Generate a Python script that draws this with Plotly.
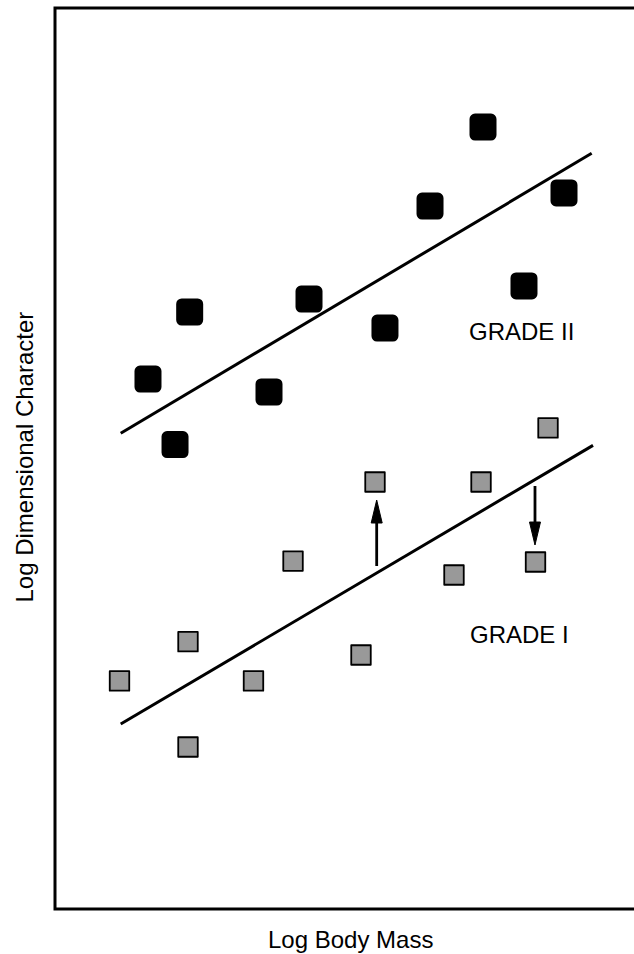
import plotly.graph_objects as go

# Grade II (black) and Grade I (grey) observations: log body mass vs log dimensional character
grade2_mass = [16.06, 20.73, 23.26, 36.96, 43.87, 56.99, 64.77, 73.92, 81.00, 87.91]
grade2_char = [58.82, 51.55, 66.26, 57.38, 67.70, 64.48, 78.02, 86.79, 69.15, 79.47]
grade1_mass = [11.14, 22.97, 22.97, 34.28, 41.11, 52.85, 55.27, 68.91, 73.58, 82.99, 85.15]
grade1_char = [25.31, 29.67, 17.98, 25.31, 38.62, 28.19, 47.39, 37.07, 47.39, 38.51, 53.39]

# Fitted allometric lines for each grade (end points)
grade2_fit_mass = [11.35, 92.69]
grade2_fit_char = [52.80, 83.87]
grade1_fit_mass = [11.35, 92.92]
grade1_fit_char = [20.53, 51.46]

# Shifts between grades: body mass, start and end of the arrow
shift_mass = [55.56, 82.90]
shift_from = [38.07, 46.95]
shift_to = [45.39, 40.40]

# Grade labels
grade_labels = ["GRADE II", "GRADE I"]
grade_label_mass = [71.2, 71.3]
grade_label_char = [64.15, 30.52]

FONT = "Liberation Sans, Arial, Helvetica, sans-serif"
FONT_SIZE = 24
HEAD_HALF_W = 0.95   # arrow head half width (axis units)
HEAD_LEN = 2.55      # arrow head length (axis units)

fig = go.Figure()

# regression lines
for fx, fy in [(grade2_fit_mass, grade2_fit_char), (grade1_fit_mass, grade1_fit_char)]:
    fig.add_trace(go.Scatter(x=fx, y=fy, mode="lines",
                             line=dict(color="black", width=3),
                             hoverinfo="skip", showlegend=False))

# shift arrows: shaft plus filled head
for m, a, b in zip(shift_mass, shift_from, shift_to):
    d = 1 if b > a else -1
    base = b - d * HEAD_LEN
    fig.add_trace(go.Scatter(x=[m, m], y=[a, base + d * 0.3], mode="lines",
                             line=dict(color="black", width=2.8),
                             hoverinfo="skip", showlegend=False))
    fig.add_trace(go.Scatter(x=[m, m - HEAD_HALF_W, m + HEAD_HALF_W, m],
                             y=[b, base, base, b], mode="lines",
                             fill="toself", fillcolor="black",
                             line=dict(color="black", width=1),
                             hoverinfo="skip", showlegend=False))

# Grade I points
fig.add_trace(go.Scatter(x=grade1_mass, y=grade1_char, mode="markers",
                         marker=dict(symbol="square", size=19.5, color="#999999",
                                     line=dict(color="black", width=1.8)),
                         showlegend=False))

# Grade II points
fig.add_trace(go.Scatter(x=grade2_mass, y=grade2_char, mode="markers",
                         marker=dict(symbol="square", size=16, color="black",
                                     line=dict(color="black", width=11)),
                         showlegend=False))

for txt, gx, gy in zip(grade_labels, grade_label_mass, grade_label_char):
    fig.add_annotation(x=gx, y=gy, text=txt, showarrow=False,
                       xanchor="left", yanchor="middle",
                       font=dict(family=FONT, size=FONT_SIZE, color="black"))

# axis titles
fig.add_annotation(xref="paper", yref="paper", x=0.5095, y=-0.0333,
                   text="Log Body Mass", showarrow=False,
                   xanchor="center", yanchor="middle",
                   font=dict(family=FONT, size=FONT_SIZE, color="black"))
fig.add_annotation(xref="paper", yref="paper", x=-0.0518, y=0.5011,
                   text="Log Dimensional Character", showarrow=False,
                   textangle=-90, xanchor="center", yanchor="middle",
                   font=dict(family=FONT, size=FONT_SIZE, color="black"))

# open frame: left, top and bottom edges
fig.add_shape(type="path", xref="paper", yref="paper",
              path="M 1.05,1 L 0,1 L 0,0 L 1.05,0",
              line=dict(color="black", width=3))

fig.update_xaxes(range=[0, 100], visible=False, fixedrange=True)
fig.update_yaxes(range=[0, 100], visible=False, fixedrange=True)
fig.update_layout(width=634, height=954,
                  margin=dict(l=55, r=0, t=8, b=45),
                  paper_bgcolor="white", plot_bgcolor="white",
                  showlegend=False)

# rounded corners on the square markers
post = """
var gd = document.getElementById('{plot_id}');
function roundJoins() {
  gd.querySelectorAll('.scatterlayer path.point').forEach(function (p) {
    p.style.strokeLinejoin = 'round';
  });
}
roundJoins();
gd.on('plotly_afterplot', roundJoins);
"""

fig.write_html("out.html", post_script=post, config={"displayModeBar": False})
